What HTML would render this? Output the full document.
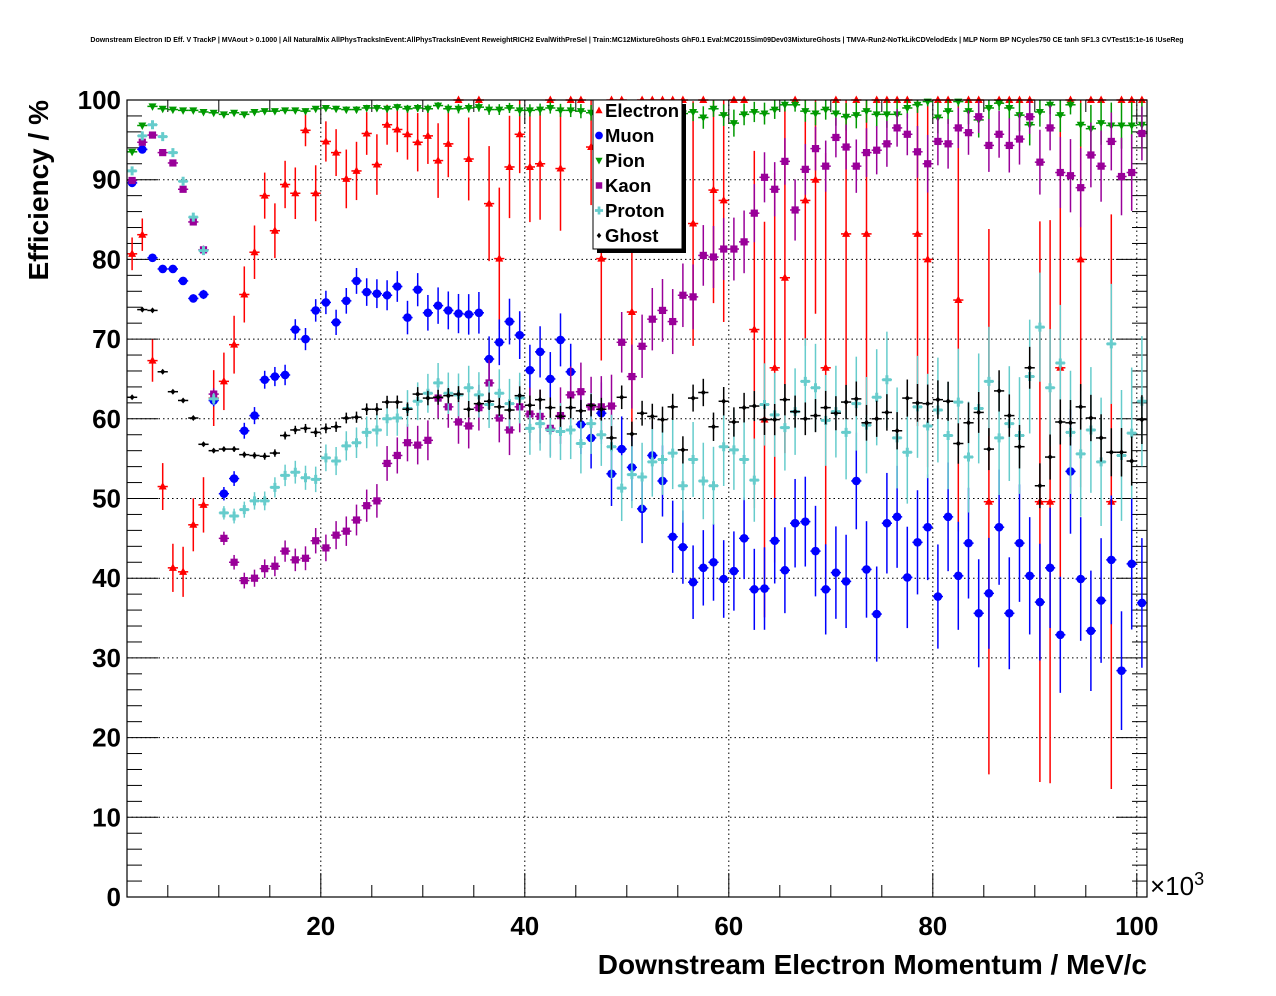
<!DOCTYPE html>
<html><head><meta charset="utf-8"><style>
html,body{margin:0;padding:0;background:#fff;}
svg{display:block;font-family:"Liberation Sans",sans-serif;}
</style></head><body>
<svg id="chart" width="1276" height="996" viewBox="0 0 1276 996" xmlns="http://www.w3.org/2000/svg">
<rect x="0" y="0" width="1276" height="996" fill="#fff"/>
<text x="637" y="42" font-size="7" font-weight="bold" text-anchor="middle">Downstream Electron ID Eff. V TrackP | MVAout &gt; 0.1000 | All NaturalMix AllPhysTracksInEvent:AllPhysTracksInEvent ReweightRICH2 EvalWithPreSel | Train:MC12MixtureGhosts GhF0.1 Eval:MC2015Sim09Dev03MixtureGhosts | TMVA-Run2-NoTkLikCDVelodEdx | MLP Norm BP NCycles750 CE tanh SF1.3 CVTest15:1e-16 !UseReg</text>
<g id="grid"></g>
<g id="ticks"></g>
<g id="series"></g>
<rect x="127" y="100" width="1020" height="797" fill="none" stroke="#000" stroke-width="1.2"/>
<g id="labels" font-weight="bold" font-size="26"></g>
<text x="1150" y="895" font-size="26" font-weight="normal">×10<tspan font-size="18" dy="-10">3</tspan></text>
<text x="1147" y="974" font-size="28" font-weight="bold" text-anchor="end">Downstream Electron Momentum / MeV/c</text>
<text transform="translate(48,100) rotate(-90)" font-size="28" font-weight="bold" text-anchor="end">Efficiency / %</text>
<g id="legend"></g>
</svg>
<script>
const NS="http://www.w3.org/2000/svg";
const xTicks=[20,40,60,80,100];
const yTicks=[0,10,20,30,40,50,60,70,80,90,100];
const seriesNames=["Electron","Muon","Pion","Kaon","Proton","Ghost"];
const electron=[80.7,83.1,67.3,51.5,41.3,40.8,46.7,49.2,62.6,64.7,69.3,75.6,80.9,88,83.6,89.4,88.3,96.2,88.3,94.8,93.4,90.1,91.1,95.8,91.9,96.9,96.3,95.7,94.7,95.5,92.4,94.5,100,92.6,100,87,80.1,91.6,95.7,91.6,92,100,91.4,100,100,94.1,80.1,100,100,73.4,100,100,100,100,100,84.5,100,88.7,87.4,100,100,71.2,59.9,66.4,77.7,100,87.4,90,66.4,100,83.2,100,83.2,100,100,100,100,83.2,80,100,100,74.9,100,100,49.6,100,100,100,100,49.6,49.6,66.4,100,80,100,100,49.6,100,100,100];
const muon=[89.6,93.8,80.2,78.8,78.8,77.3,75.1,75.6,62.3,50.6,52.5,58.5,60.4,64.9,65.3,65.5,71.2,70,73.6,74.6,72.1,74.8,77.3,75.9,75.7,75.5,76.6,72.7,76.2,73.3,74.2,73.6,73.2,73.1,73.3,67.5,69.6,72.2,70.5,66.1,68.4,65,69.9,65.9,59.3,57.6,60.7,53.1,56.2,53.9,48.7,55.4,52.2,45.2,43.9,39.5,41.3,42,39.9,40.9,45,38.6,38.7,44.7,41,46.9,47.1,43.4,38.6,40.7,39.6,52.2,41.1,35.5,46.9,47.7,40.1,44.5,46.4,37.7,47.7,40.3,44.4,35.6,38.1,46.4,35.6,44.4,40.3,37,41.3,32.9,53.4,39.9,33.4,37.2,42.3,28.4,41.8,36.9];
const pion=[93.5,96.8,99.2,98.9,98.8,98.7,98.7,98.5,98.4,98.2,98.4,98.2,98.5,98.6,98.6,98.7,98.7,98.6,98.9,99,98.9,98.8,98.8,99,99,98.9,99.1,98.9,99,98.9,99.3,98.9,98.9,99,99.1,98.8,98.8,99,98.7,98.7,98.8,99,98.7,98.7,98.6,98.4,98.5,98.5,98.5,98.5,98.5,98.5,98.4,98.4,98.3,98.5,97.8,98.9,98.1,97.1,98.2,98.5,98.3,98.8,99.4,99.4,98.6,98.3,98.8,98.3,97.9,98.1,98.6,98.2,98.2,98.2,99,99.4,99.8,97.8,98.6,99.8,98.6,97.5,99,99.6,99,98.1,96.9,98.5,99.4,98.1,99.4,96.9,96.4,97.1,96.8,96.8,96.8,96.9];
const kaon=[89.9,94.7,95.6,93.4,92.1,88.8,84.7,81.2,63.1,45,42,39.7,40,41.2,41.5,43.4,42.3,42.5,44.7,43.8,45.4,45.9,47.3,49.1,49.7,54.4,55.4,57,56.7,57.3,62.6,61.5,59.6,59.1,61.4,64.5,60.1,58.6,61.5,60.6,60.3,58.8,60.4,63,63.4,61.5,61.5,61.6,69.6,65.3,69.1,72.5,73.6,72.2,75.5,75.3,80.5,80.3,81.3,81.3,82.2,85.8,90.3,88.8,92.3,86.2,91.3,93.9,91.7,95.3,94.1,91.7,93.4,93.7,94.5,96.5,95.7,93.5,92,94.8,94.5,96.5,95.9,97.9,94.3,95.7,94.3,95.1,97.9,92.2,96.5,90.9,90.5,89,93.1,91.7,94.8,90.4,90.9,95.8];
const proton=[91.1,95.5,96.9,95.4,93.4,89.8,85.3,81.1,62.5,48.2,47.8,48.6,49.7,49.7,51.4,52.9,53.3,52.6,52.4,55.1,54.7,56.6,57,58.3,58.6,60,60.1,61.3,62.2,63.2,64.5,63.2,63,63.9,63,61.8,63.2,61.9,62.6,58.8,59.4,58.6,58.4,58.6,56.9,59.4,58,56.5,51.3,53,52.7,54.6,54.9,55.7,51.6,54.9,52.2,51.6,56.5,56.1,54.9,52.3,61.8,60.5,58.9,60.9,64.7,63.9,59.8,60.9,58.3,61.9,59.2,62.7,64.9,57.6,55.8,61.5,59.1,61.1,57.9,62.1,55.2,61.3,64.7,57.6,59.4,57.9,65.3,71.5,63.9,67,58.3,55.6,58.6,54.6,69.4,55.4,58.2,62.2];
const ghost=[62.7,73.7,73.6,65.9,63.4,62.3,60.1,56.8,56,56.2,56.2,55.5,55.4,55.3,55.7,57.9,58.6,58.8,58.3,58.8,59,60.1,60.2,61.2,61.2,62.1,62.1,61.2,63.1,62.6,62.7,62.9,63.1,61.2,61.9,62.2,61.5,61.1,62.9,61.7,62.4,61.4,60.3,61.4,61,61.7,61.2,57.6,62.7,58.1,60.7,60.3,59.9,61.5,56.1,62.6,63.3,59,62.2,59.6,61.4,61.6,59.9,59.9,62.4,60.9,60,60.4,61.4,60.7,62.1,62.5,59.5,60,60.8,58.5,62.6,62,61.9,62.4,62.2,56.9,59.5,60.8,56.2,63.5,60.4,56.5,66.4,51.6,55.2,59.6,59.5,61.5,60.1,57.6,55.8,55.8,54.7,59.9];

const X0=127,X1=1147,Y0=897,Y1=100;
const xMin=1,xMax=101;
function xs(v){return X0+(v-xMin)/(xMax-xMin)*(X1-X0);}
function ys(v){return Y0-v/100*(Y0-Y1);}
function mk(tag,attrs,parent){const e=document.createElementNS(NS,tag);for(const k in attrs)e.setAttribute(k,attrs[k]);parent.appendChild(e);return e;}

const grid=document.getElementById('grid');
for(const t of xTicks){const l=mk('line',{x1:xs(t),x2:xs(t),y1:Y1,y2:Y0,stroke:'#000','stroke-width':1,'stroke-dasharray':'1.5,3'},grid);

}
for(const t of yTicks){if(t===0||t===100)continue;const l=mk('line',{x1:X0,x2:X1,y1:ys(t),y2:ys(t),stroke:'#000','stroke-width':1,'stroke-dasharray':'1.5,3'},grid);

}

const ticks=document.getElementById('ticks');
for(let v=0;v<=100;v+=2){const maj=v%10===0;const L=maj?31:15;const Lr=maj?31:15;
mk('line',{x1:X0,x2:X0+L,y1:ys(v),y2:ys(v),stroke:'#000','stroke-width':1},ticks);
mk('line',{x1:X1,x2:X1-Lr,y1:ys(v),y2:ys(v),stroke:'#000','stroke-width':1},ticks);}
for(let v=5;v<=100;v+=5){const maj=v%20===0;const L=maj?24:12;
mk('line',{x1:xs(v),x2:xs(v),y1:Y0,y2:Y0-L,stroke:'#000','stroke-width':1},ticks);
mk('line',{x1:xs(v),x2:xs(v),y1:Y1,y2:Y1+L,stroke:'#000','stroke-width':1},ticks);}

const labels=document.getElementById('labels');
for(const t of yTicks){const e=mk('text',{x:121,y:ys(t)+9,'text-anchor':'end'},labels);e.textContent=t;

}
for(const t of xTicks){const e=mk('text',{x:xs(t),y:935,'text-anchor':'middle'},labels);e.textContent=t;

}

const colors={Electron:'#ff0000',Muon:'#0000ff',Pion:'#009900',Kaon:'#990099',Proton:'#66cccc',Ghost:'#000000'};
const dataMap={Electron:electron,Muon:muon,Pion:pion,Kaon:kaon,Proton:proton,Ghost:ghost};
function nEff(name,i){
  if(name==='Electron')return 400*Math.exp(-i/12)+1.8;
  if(name==='Ghost')return 16*160000/(i*i);
  return 2.2*160000/(i*i);
}
function marker(name,cx,cy,parent,s){
  s=s||1;const c=colors[name];let e;
  if(name==='Electron')e=mk('polygon',{points:`${cx},${cy-4.5*s} ${cx-4*s},${cy+3*s} ${cx+4*s},${cy+3*s}`,fill:c},parent);
  else if(name==='Muon')e=mk('circle',{cx:cx,cy:cy,r:4.3*s,fill:c},parent);
  else if(name==='Pion')e=mk('polygon',{points:`${cx-4*s},${cy-3*s} ${cx+4*s},${cy-3*s} ${cx},${cy+4.5*s}`,fill:c},parent);
  else if(name==='Kaon')e=mk('rect',{x:cx-3.6*s,y:cy-3.6*s,width:7.2*s,height:7.2*s,fill:c},parent);
  else if(name==='Proton')e=mk('path',{d:`M${cx-4.5*s},${cy}H${cx+4.5*s}M${cx},${cy-4.5*s}V${cy+4.5*s}`,stroke:c,'stroke-width':3*s},parent);
  else e=mk('polygon',{points:`${cx},${cy-3*s} ${cx+2.5*s},${cy} ${cx},${cy+3*s} ${cx-2.5*s},${cy}`,fill:c},parent);
  return e;
}
const sg=document.getElementById('series');
for(const name of seriesNames){
  const g=mk('g',{},sg);
  
  
  const arr=dataMap[name];const c=colors[name];
  arr.forEach((v,k)=>{
    const i=k+1;const xc=xs(i+0.5);const y=ys(v);
    const err=Math.sqrt(Math.max(v*(100-v),0)/nEff(name,i));
    const lo=Math.max(0,v-err),hi=Math.min(100,v+err);
    const pt=mk('g',{},g);
    
    
    mk('line',{x1:xs(i),x2:xs(i+1),y1:y,y2:y,stroke:c,'stroke-width':1.5},pt);
    mk('line',{x1:xc,x2:xc,y1:ys(lo),y2:ys(hi),stroke:c,'stroke-width':1.5},pt);
    marker(name,xc,y,pt);
  });
}

const lg=document.getElementById('legend');
mk('rect',{x:597,y:104,width:89,height:149,fill:'#000'},lg);
mk('rect',{x:593,y:100,width:89,height:149,fill:'#fff',stroke:'#000','stroke-width':1},lg);
seriesNames.forEach((n,k)=>{
  const y=110.5+k*25;
  const it=mk('g',{},lg);
  
  
  marker(n,599,y,it,0.9);
  const t=mk('text',{x:605,y:y+6.5,'font-size':18.5,'font-weight':'bold'},it);t.textContent=n;
});
</script>
</body></html>
